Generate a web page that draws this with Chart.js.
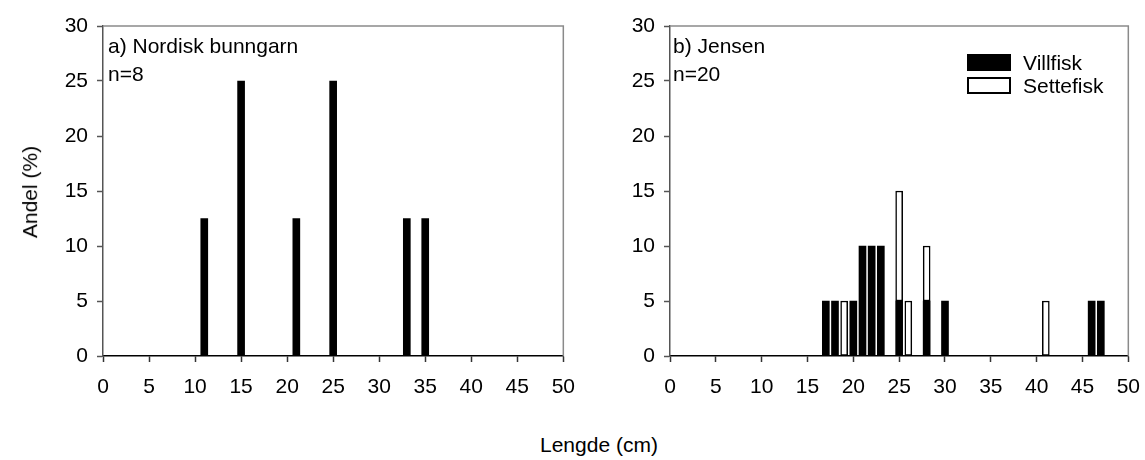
<!DOCTYPE html>
<html>
<head>
<meta charset="utf-8">
<script src="https://cdn.jsdelivr.net/npm/chart.js@4.4.1/dist/chart.umd.min.js"></script>
<style>
    body {
        margin: 0;
        background: #ffffff;
        font-family: "Liberation Sans", Arial, sans-serif;
    }
    #figure {
        position: relative;
        width: 1145px;
        height: 460px;
        overflow: hidden;
    }
    canvas {
        position: absolute;
        top: 0;
    }
    .txt {
        position: absolute;
        font-size: 21px;
        color: #000;
        white-space: nowrap;
        line-height: 28px;
    }
    .legend-row {
        display: flex;
        align-items: center;
        height: 23px;
    }
    .legend-box {
        width: 44px;
        height: 17px;
        margin-right: 12px;
        box-sizing: border-box;
        border: 2px solid #000;
    }
</style>
</head>
<body>
<div id="figure">
    <canvas id="chartA" width="588" height="400" style="left:0px"></canvas>
    <canvas id="chartB" width="583" height="400" style="left:570px"></canvas>

    <div class="txt" style="left:108px; top:32px">a) Nordisk bunngarn<br>n=8</div>
    <div class="txt" style="left:673px; top:32px">b) Jensen<br>n=20</div>
    <div class="txt" id="legend" style="left:967px; top:51px"></div>

    <div class="txt" style="left:540px; top:431px">Lengde (cm)</div>
    <div class="txt" style="left:-16px; top:178px; transform:rotate(-90deg)">Andel (%)</div>
</div>

<script>
// a) Nordisk bunngarn
const lengthsA = [11, 15, 21, 25, 33, 35];
const shareA = [12.5, 25, 12.5, 25, 12.5, 12.5];

// b) Jensen
const lengthsWild = [17, 18, 20, 21, 22, 23, 25, 28, 30, 46, 47];
const shareWild = [5, 5, 5, 10, 10, 10, 5, 5, 5, 5, 5];
const lengthsStocked = [19, 25, 26, 28, 41];
const shareStocked = [5, 10, 5, 5, 5];

const seriesNames = ['Villfisk', 'Settefisk'];

const xMin = 0, xMax = 50, xStep = 5;
const yMin = 0, yMax = 30, yStep = 5;

const FONT = { family: '"Liberation Sans", Arial, sans-serif', size: 21 };

function toPoints(xs, ys) {
    return xs.map((x, i) => ({ x: x, y: ys[i] }));
}

// gray frame on top and right of the plot area
const framePlugin = {
    id: 'frame',
    afterDraw(chart) {
        const a = chart.chartArea;
        const ctx = chart.ctx;
        ctx.save();
        ctx.strokeStyle = '#8a8a8a';
        ctx.lineWidth = 1.5;
        ctx.beginPath();
        ctx.moveTo(a.left, a.top);
        ctx.lineTo(a.right, a.top);
        ctx.lineTo(a.right, a.bottom);
        ctx.stroke();
        ctx.restore();
    }
};

function buildOptions(yAxisWidth) {
    return {
        responsive: false,
        animation: false,
        devicePixelRatio: 1,
        layout: {
            padding: { top: 26, right: 0, bottom: 0, left: 0 }
        },
        plugins: {
            legend: { display: false },
            tooltip: { enabled: false }
        },
        scales: {
            x: {
                type: 'linear',
                stacked: true,
                offset: false,
                min: xMin,
                max: xMax,
                ticks: {
                    stepSize: xStep,
                    color: '#000',
                    font: FONT,
                    padding: 13,
                    maxRotation: 0
                },
                grid: {
                    display: true,
                    offset: false,
                    drawOnChartArea: false,
                    tickLength: 6,
                    tickColor: '#333',
                    tickWidth: 1.5
                },
                border: { color: '#000', width: 1.5 },
                afterFit(scale) {
                    scale.height = 44;
                }
            },
            y: {
                stacked: true,
                min: yMin,
                max: yMax,
                ticks: {
                    stepSize: yStep,
                    color: '#000',
                    font: FONT,
                    padding: 9
                },
                grid: {
                    display: true,
                    drawOnChartArea: false,
                    tickLength: 6,
                    tickColor: '#555',
                    tickWidth: 1.5
                },
                border: { color: '#555', width: 1.5 },
                afterFit(scale) {
                    scale.width = yAxisWidth;
                }
            }
        }
    };
}

const wildStyle = {
    backgroundColor: '#000000',
    borderColor: '#000000',
    borderWidth: 0,
    barThickness: 7
};

const stockedStyle = {
    backgroundColor: '#ffffff',
    borderColor: '#000000',
    borderWidth: 1.5,
    borderSkipped: false,
    barThickness: 7
};

new Chart(document.getElementById('chartA'), {
    type: 'bar',
    data: {
        datasets: [{
            label: seriesNames[0],
            data: toPoints(lengthsA, shareA),
            ...wildStyle
        }]
    },
    options: buildOptions(103),
    plugins: [framePlugin]
});

const chartB = new Chart(document.getElementById('chartB'), {
    type: 'bar',
    data: {
        datasets: [{
            label: seriesNames[0],
            data: toPoints(lengthsWild, shareWild),
            ...wildStyle
        }, {
            label: seriesNames[1],
            data: toPoints(lengthsStocked, shareStocked),
            ...stockedStyle
        }]
    },
    options: buildOptions(100),
    plugins: [framePlugin]
});

// legend built from the datasets of panel b
const legend = document.getElementById('legend');
chartB.data.datasets.forEach(ds => {
    const row = document.createElement('div');
    row.className = 'legend-row';
    const box = document.createElement('span');
    box.className = 'legend-box';
    box.style.background = ds.backgroundColor;
    const label = document.createElement('span');
    label.textContent = ds.label;
    row.appendChild(box);
    row.appendChild(label);
    legend.appendChild(row);
});
</script>
</body>
</html>
